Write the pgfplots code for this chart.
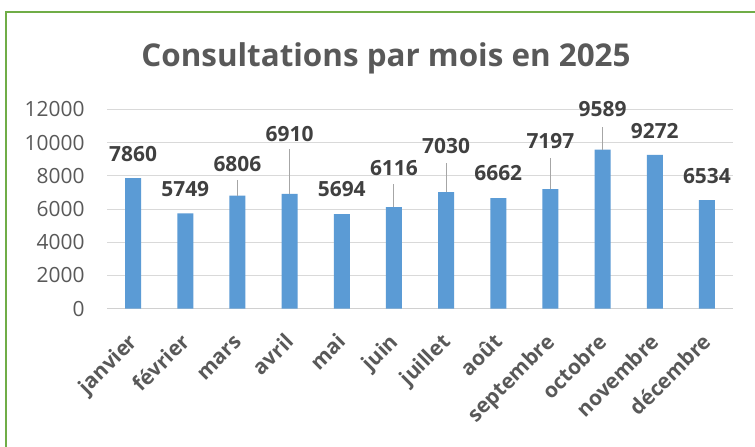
\documentclass[border=0pt]{standalone}
\usepackage{pgfplots}
\pgfplotsset{compat=1.18}
\usepackage{fontspec}
\setmainfont{Open Sans}
\definecolor{barblue}{HTML}{5B9BD5}
\definecolor{gridgray}{HTML}{D9D9D9}
\definecolor{axisgray}{HTML}{D0D0D0}
\definecolor{leadgray}{HTML}{A6A6A6}
\definecolor{txtgray}{HTML}{595959}
\definecolor{lblgray}{HTML}{404040}
\definecolor{bordergreen}{HTML}{70AD47}
\pgfplotstableread{
x y
0 7860
1 5749
2 6806
3 6910
4 5694
5 6116
6 7030
7 6662
8 7197
9 9589
10 9272
11 6534
}\bars
\pgfplotstableread{
x y label
0 9320 7860
1 7190 5749
2 8700 6806
3 10520 6910
4 7190 5694
5 8475 6116
6 9800 7030
7 8150 6662
8 10100 7197
9 12010 9589
10 10720 9272
11 7990 6534
}\labels
\pgfplotstableread{
x y
2 6806
2 7750
2 nan
3 6910
3 9620
3 nan
5 6116
5 7500
5 nan
6 7030
6 8760
6 nan
8 7197
8 9100
8 nan
9 9589
9 10960
}\leaders
\begin{document}
\begin{tikzpicture}
\useasboundingbox (0,0) rectangle (755bp,447bp);
\fill[white] (0,0) rectangle (755bp,447bp);
\draw[bordergreen, line width=2bp] (6bp,0) -- (6bp,435bp) -- (755bp,435bp);
\node[font=\bfseries\fontsize{31.5}{36}\selectfont, text=txtgray] at (386bp,389bp) {Consultations par mois en 2025};
\begin{axis}[
  at={(107bp,138.3bp)}, anchor=south west,
  scale only axis, width=626bp, height=199.2bp,
  xmin=-0.5, xmax=11.5, ymin=0, ymax=12000,
  ytick={0,2000,...,12000},
  xtick={0,...,11},
  xticklabels={janvier,février,mars,avril,mai,juin,juillet,août,septembre,octobre,novembre,décembre},
  ymajorgrids, grid style={draw=gridgray, line width=1bp},
  axis lines*=left,
  x axis line style={draw=axisgray, line width=1.2bp},
  y axis line style={draw=none},
  tick style={draw=none},
  scaled y ticks=false,
  /pgf/number format/assume math mode=true,
  /pgf/number format/1000 sep={},
  yticklabel style={font=\fontsize{21}{23}\selectfont, text=txtgray, xshift=-19bp},
  xticklabel style={xshift=0bp, yshift=-29bp, inner sep=0pt, text height=0.78em, font=\bfseries\fontsize{21}{23}\selectfont, text=txtgray, rotate=45, anchor=north east},
  clip=false,
  unbounded coords=jump,
]
\addplot[ybar, bar width=16bp, fill=barblue, draw=none] table[x=x,y=y] {\bars};
\addplot[leadgray, line width=1bp] table[x=x,y=y] {\leaders};
\addplot[draw=none, mark=none, nodes near coords, point meta=explicit symbolic,
  every node near coord/.append style={anchor=center, font=\bfseries\fontsize{21}{24}\selectfont, text=lblgray}]
  table[x=x,y=y,meta=label] {\labels};
\end{axis}
\end{tikzpicture}
\end{document}
